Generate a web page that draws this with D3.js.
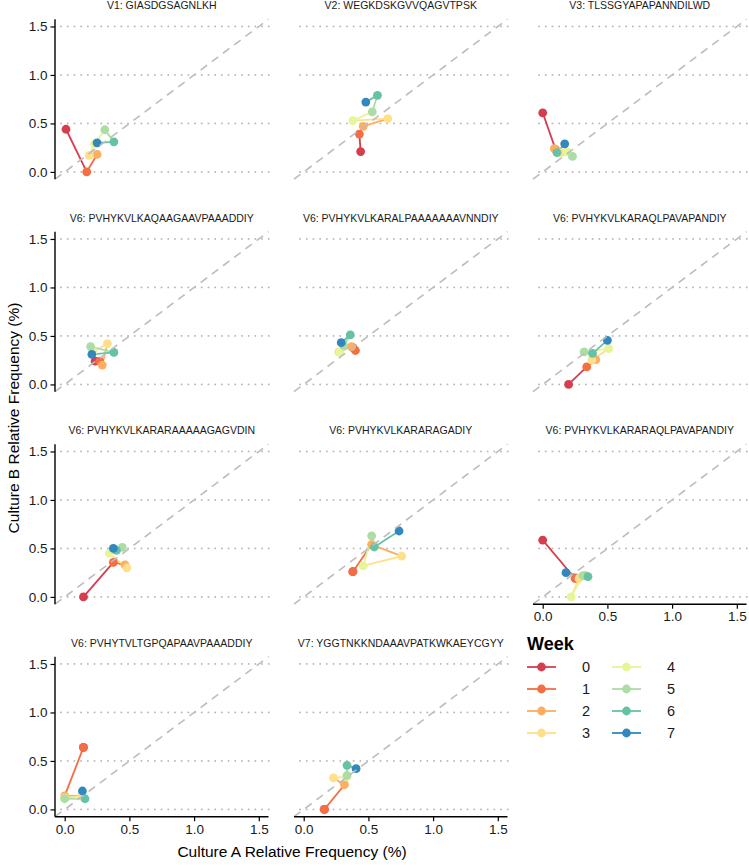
<!DOCTYPE html>
<html><head><meta charset="utf-8">
<script src="https://cdn.jsdelivr.net/npm/d3@7"></script>
<style>body{margin:0;background:#fff}svg{display:block}</style>
</head><body>
<script>
const weeks = [0,1,2,3,4,5,6,7];
const weekColors = ["#D53E4F","#F46D43","#FDAE61","#FEE08B","#E6F598","#ABDDA4","#66C2A5","#3288BD"];
const panelTitles = [
  "V1: GIASDGSAGNLKH",
  "V2: WEGKDSKGVVQAGVTPSK",
  "V3: TLSSGYAPAPANNDILWD",
  "V6: PVHYKVLKAQAAGAAVPAAADDIY",
  "V6: PVHYKVLKARALPAAAAAAAVNNDIY",
  "V6: PVHYKVLKARAQLPAVAPANDIY",
  "V6: PVHYKVLKARARAAAAAGAGVDIN",
  "V6: PVHYKVLKARARAGADIY",
  "V6: PVHYKVLKARARAQLPAVAPANDIY",
  "V6: PVHYTVLTGPQAPAAVPAAADDIY",
  "V7: YGGTNKKNDAAAVPATKWKAEYCGYY"
];
// Culture A relative frequency (%) per panel, weeks 0..7
const cultureA = [
  [0.01,0.17,0.25,0.19,0.23,0.31,0.38,0.25],
  [0.44,0.43,0.46,0.65,0.38,0.53,0.57,0.48],
  [0.00,0.10,0.09,0.14,0.19,0.23,0.11,0.17],
  [0.235,0.27,0.29,0.33,0.22,0.20,0.38,0.21],
  [0.38,0.40,0.37,0.27,0.28,0.31,0.36,0.29],
  [0.20,0.34,0.41,0.38,0.51,0.32,0.385,0.50],
  [0.145,0.376,0.466,0.48,0.345,0.445,0.40,0.376],
  [0.38,0.38,0.525,0.757,0.46,0.525,0.546,0.737],
  [0.00,0.25,0.33,0.28,0.22,0.31,0.35,0.18],
  [0.145,0.145,0.00,0.13,0.00,0.00,0.157,0.137],
  [0.16,0.16,0.315,0.23,0.33,0.335,0.335,0.405]
];
// Culture B relative frequency (%) per panel, weeks 0..7
const cultureB = [
  [0.44,0.00,0.18,0.17,0.29,0.435,0.31,0.30],
  [0.21,0.39,0.47,0.55,0.53,0.62,0.79,0.72],
  [0.61,0.23,0.24,0.20,0.21,0.16,0.20,0.29],
  [0.24,0.24,0.20,0.42,0.34,0.39,0.33,0.31],
  [0.38,0.35,0.39,0.335,0.33,0.40,0.51,0.43],
  [0.00,0.18,0.255,0.25,0.37,0.335,0.32,0.455],
  [0.00,0.357,0.33,0.30,0.45,0.51,0.48,0.50],
  [0.26,0.26,0.54,0.42,0.32,0.63,0.515,0.68],
  [0.585,0.19,0.22,0.19,0.00,0.22,0.21,0.25],
  [0.64,0.64,0.14,0.14,0.12,0.11,0.11,0.19],
  [0.00,0.00,0.255,0.325,0.335,0.35,0.455,0.42]
];
const tickValues = [0, 0.5, 1.0, 1.5];
const xTitle = "Culture A Relative Frequency (%)";
const yTitle = "Culture B Relative Frequency (%)";
const legendTitle = "Week";

const W = 749, H = 866;
const PW = 213.5, PH = 160;
const colLeft = [55, 294, 533];
const rowTop = [19.2, 231.7, 444.2, 656.7];
const font = "'Liberation Sans', Arial, sans-serif";

const svg = d3.select("body").append("svg").attr("width", W).attr("height", H)
  .style("font-family", font);

const x = d3.scaleLinear().domain([-0.075, 1.575]).range([0, PW]);
const y = d3.scaleLinear().domain([-0.075, 1.575]).range([PH, 0]);
const color = d3.scaleOrdinal().domain(weeks).range(weekColors);
const fmt = d3.format(".1f");

panelTitles.forEach((title, i) => {
  const col = i % 3, row = Math.floor(i / 3);
  const g = svg.append("g").attr("transform", `translate(${colLeft[col]},${rowTop[row]})`);
  // strip title
  g.append("text").attr("x", PW / 2).attr("y", -10).attr("text-anchor", "middle")
    .attr("font-size", 10.5).attr("fill", "#1a1a1a").text(title);
  // gridlines (horizontal, dotted)
  g.selectAll("line.grid").data(tickValues).join("line").attr("class", "grid")
    .attr("x1", 0).attr("x2", PW).attr("y1", d => y(d)).attr("y2", d => y(d))
    .attr("stroke", "#b5b5b5").attr("stroke-width", 1.8)
    .attr("stroke-dasharray", "0.1,6.6").attr("stroke-linecap", "round")
    .attr("transform", "translate(6,0)");
  const pts = weeks.map((w, k) => ({w, a: cultureA[i][k], b: cultureB[i][k]}));
  // path segments coloured by starting week
  g.selectAll("line.seg").data(pts.slice(0, -1)).join("line").attr("class", "seg")
    .attr("x1", d => x(d.a)).attr("y1", d => y(d.b))
    .attr("x2", (d, k) => x(pts[k + 1].a)).attr("y2", (d, k) => y(pts[k + 1].b))
    .attr("stroke", d => color(d.w)).attr("stroke-width", 1.8).attr("stroke-linecap", "butt");
  g.selectAll("circle").data(pts).join("circle")
    .attr("cx", d => x(d.a)).attr("cy", d => y(d.b)).attr("r", 4.4)
    .attr("fill", d => color(d.w));
  // identity line
  g.append("line").attr("x1", x(-0.075)).attr("y1", y(-0.075)).attr("x2", x(1.575)).attr("y2", y(1.575))
    .attr("stroke", "#bdbdbd").attr("stroke-width", 1.6).attr("stroke-dasharray", "8,6");
  // axes
  if (col === 0) {
    const ya = g.append("g").call(d3.axisLeft(y).tickValues(tickValues).tickFormat(fmt).tickSize(4.5).tickPadding(3));
    ya.select(".domain").attr("stroke", "#000").attr("stroke-width", 1.4).attr("d", `M0,0V${PH}`);
    ya.selectAll(".tick line").attr("stroke", "#000").attr("stroke-width", 1.2);
    ya.selectAll(".tick text").attr("font-size", 13.5).attr("fill", "#1a1a1a").attr("font-family", font);
  }
  const hasX = row === 3 || (row === 2 && col === 2);
  if (hasX) {
    const xa = g.append("g").attr("transform", `translate(0,${PH})`)
      .call(d3.axisBottom(x).tickValues(tickValues).tickFormat(fmt).tickSize(4.5).tickPadding(3));
    xa.select(".domain").attr("stroke", "#000").attr("stroke-width", 1.4).attr("d", `M0,0H${PW}`);
    xa.selectAll(".tick line").attr("stroke", "#000").attr("stroke-width", 1.2);
    xa.selectAll(".tick text").attr("font-size", 13.5).attr("fill", "#1a1a1a").attr("font-family", font);
  }
});

// axis titles
svg.append("text").attr("x", 292).attr("y", 857).attr("text-anchor", "middle")
  .attr("font-size", 15.5).attr("fill", "#000").text(xTitle);
svg.append("text").attr("transform", "translate(19,418) rotate(-90)").attr("text-anchor", "middle")
  .attr("font-size", 15.5).attr("fill", "#000").text(yTitle);

// legend
const lg = svg.append("g").attr("transform", "translate(527,0)");
lg.append("text").attr("x", 0).attr("y", 650).attr("font-size", 18).attr("font-weight", "bold")
  .attr("fill", "#000").text(legendTitle);
weeks.forEach((w, k) => {
  const c = Math.floor(k / 4), r = k % 4;
  const gx = c * 85, gy = 667 + r * 22;
  lg.append("line").attr("x1", gx).attr("x2", gx + 29).attr("y1", gy).attr("y2", gy)
    .attr("stroke", color(w)).attr("stroke-width", 1.8);
  lg.append("circle").attr("cx", gx + 14.5).attr("cy", gy).attr("r", 4.4).attr("fill", color(w));
  lg.append("text").attr("x", gx + 55).attr("y", gy + 5).attr("font-size", 14.5).attr("fill", "#1a1a1a").text(w);
});
</script>
</body></html>
